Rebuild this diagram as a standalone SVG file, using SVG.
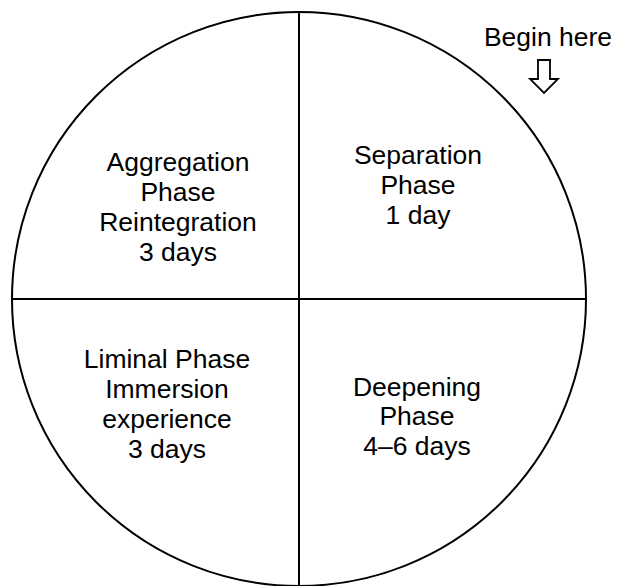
<svg xmlns="http://www.w3.org/2000/svg" width="617" height="586" viewBox="0 0 617 586">
<style>
.t{font-family:"Liberation Sans",Arial,sans-serif;font-size:26.5px;fill:#000;text-anchor:middle}
.ln{stroke:#000;stroke-width:2;fill:none}
</style>
<rect width="617" height="586" fill="#fff"/>
<g id="circle"><circle cx="299" cy="299" r="287" class="ln" stroke-width="1.8"/></g>
<g id="connectors">
<line x1="299" y1="12" x2="299" y2="586" class="ln" stroke-width="2.5"/>
<line x1="12" y1="299" x2="586" y2="299" class="ln"/>
</g>
<g id="aggregation"><text class="t"><tspan x="178" y="171">Aggregation</tspan><tspan x="178" y="201">Phase</tspan><tspan x="178" y="231">Reintegration</tspan><tspan x="178" y="261">3 days</tspan></text></g>
<g id="separation"><text class="t"><tspan x="418" y="164">Separation</tspan><tspan x="418" y="194">Phase</tspan><tspan x="418" y="224">1 day</tspan></text></g>
<g id="liminal"><text class="t"><tspan x="167" y="368">Liminal Phase</tspan><tspan x="167" y="398">Immersion</tspan><tspan x="167" y="428">experience</tspan><tspan x="167" y="458">3 days</tspan></text></g>
<g id="deepening"><text class="t"><tspan x="417" y="396">Deepening</tspan><tspan x="417" y="425">Phase</tspan><tspan x="417" y="455">4–6 days</tspan></text></g>
<g id="begin"><text class="t" x="548" y="46">Begin here</text>
<polygon points="538,60 550,60 550,79 558,79 544,93 530,79 538,79" fill="#fff" stroke="#000" stroke-width="1.8"/></g>
</svg>
